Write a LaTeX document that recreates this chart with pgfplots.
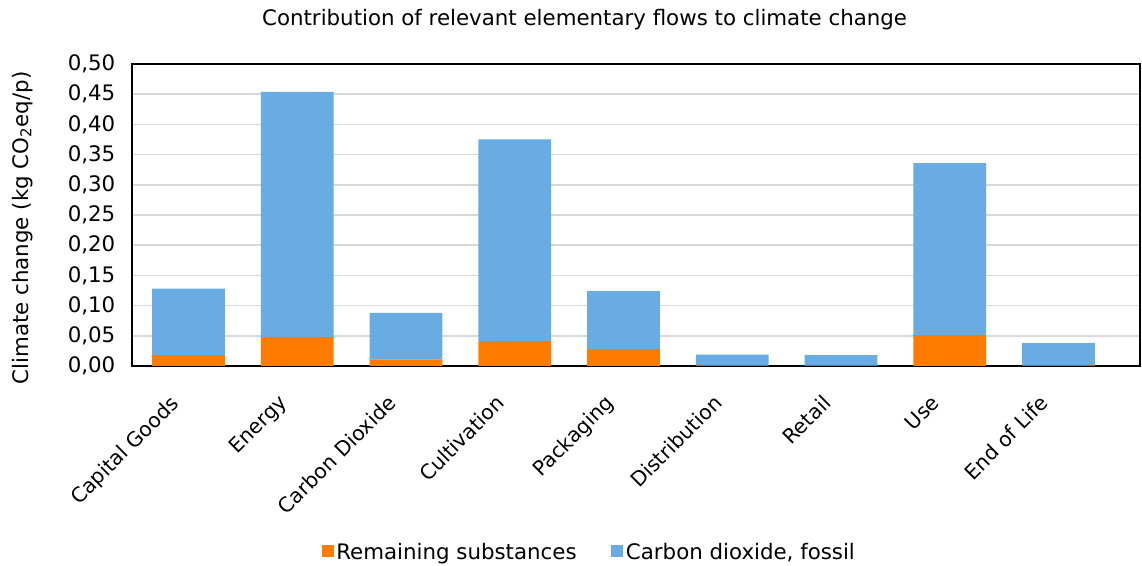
\documentclass[border=0pt]{standalone}
\usepackage{pgfplots}
\pgfplotsset{compat=1.18}
\usepackage{fontspec}
\setmainfont{DejaVu Sans}
\definecolor{corange}{RGB}{255,124,0}
\definecolor{cblue}{RGB}{105,172,227}
\definecolor{cgrid}{RGB}{217,217,217}
\begin{document}
\begin{tikzpicture}[x=1pt,y=1pt]
\useasboundingbox (-99,-150) rectangle (757.5,274.5);
\begin{axis}[
  at={(0,0)}, anchor=south west,
  scale only axis, width=756pt, height=226.5pt,
  ybar stacked, bar width=0.67,
  xmin=-0.52, xmax=8.75, ymin=0, ymax=0.5,
  xtick={0,...,8},
  xticklabels={Capital Goods,Energy,Carbon Dioxide,Cultivation,Packaging,Distribution,Retail,Use,End of Life},
  xticklabel style={rotate=45, anchor=north east, inner sep=0pt, xshift=-25pt, yshift=-4pt, font=\fontsize{15.3}{18}\selectfont},
  ytick={0,0.05,...,0.51},
  yticklabel style={font=\fontsize{16}{19}\selectfont, /pgf/number format/.cd, fixed, fixed zerofill, precision=2, use comma, assume math mode=true},
  yticklabel shift=9pt,
  major tick length=0pt,
  ymajorgrids, grid style={cgrid, line width=1.3pt},
  axis line style={black, line width=1.3pt},
  ylabel={Climate change (kg CO\textsubscript{2}eq/p)},
  ylabel style={font=\fontsize{16}{19}\selectfont, at={(axis description cs:-0.109,0.457)}, anchor=center},
  title={Contribution of relevant elementary flows to climate change},
  title style={font=\fontsize{16}{19}\selectfont, at={(axis description cs:0.449,1.0)}, anchor=center, yshift=27pt},
  legend style={draw=none, at={(axis description cs:0.454,-0.616)}, anchor=center, legend columns=2, font=\fontsize{16}{19}\selectfont, /tikz/every even column/.append style={column sep=24pt}},
  legend image code/.code={\fill[#1] (0pt,-4pt) rectangle (9pt,5pt);},
  legend cell align=left,
]
\addplot[fill=corange, draw=none] coordinates {(0,0.018) (1,0.048) (2,0.011) (3,0.041) (4,0.028) (5,0.001) (6,0.001) (7,0.051) (8,0.001)};
\addplot[fill=cblue, draw=none] coordinates {(0,0.110) (1,0.406) (2,0.077) (3,0.334) (4,0.096) (5,0.018) (6,0.017) (7,0.285) (8,0.037)};
\legend{Remaining substances, Carbon dioxide{,} fossil}
\end{axis}
\end{tikzpicture}
\end{document}
